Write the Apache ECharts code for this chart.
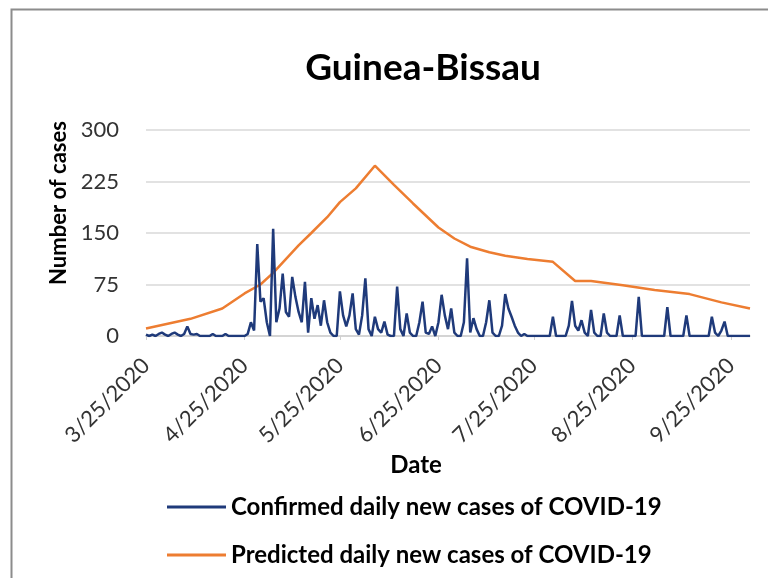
<!DOCTYPE html>
<html>
<head>
<meta charset="utf-8">
<script src="https://cdn.jsdelivr.net/npm/echarts@6/dist/echarts.min.js"></script>
<style>
html,body{margin:0;padding:0;background:#fff;}
#c{width:768px;height:578px;}
</style>
</head>
<body>
<div id="c"></div>
<script>
// ---- Data ----
var startDate = [2020, 3, 25];   // 3/25/2020
var dayCount = 191;              // 3/25/2020 .. 10/1/2020
var yTicks = [0, 75, 150, 225, 300];

// Confirmed daily new cases (one value per day from 3/25/2020)
var confirmed = [
  2,0,2,0,3,5,2,0,3,5, 2,0,3,14,3,2,3,0,0,0,
  0,3,0,0,0,3,0,0,0,0, 0,0,3,20,8,134,50,55,20,0,
  156,20,40,91,35,28,86,57,35,20, 79,5,55,25,45,15,52,20,5,0,
  0,65,30,14,30,62,10,2,30,84, 10,0,28,10,5,21,2,0,0,72,
  10,0,33,5,0,0,20,50,5,3, 14,0,20,60,30,10,40,5,0,0,
  20,113,5,26,10,0,0,20,52,5, 0,0,15,61,40,28,15,5,0,3,
  0,0,0,0,0,0,0,0,28,0, 0,0,0,15,51,15,8,23,5,0,
  38,5,0,0,33,5,0,0,0,30, 0,0,0,0,0,57,0,0,0,0,
  0,0,0,0,42,0,0,0,0,0, 30,0,0,0,0,0,0,0,28,5,
  0,8,21,0,0,0,0,0,0,0, 0
];

// Predicted daily new cases (read at these dates)
var predDates = ['3/25/2020','4/8/2020','4/18/2020','4/25/2020','4/30/2020','5/4/2020','5/8/2020','5/12/2020',
  '5/16/2020','5/21/2020','5/25/2020','5/30/2020','6/5/2020','6/11/2020','6/17/2020','6/25/2020','6/30/2020',
  '7/5/2020','7/11/2020','7/16/2020','7/23/2020','7/31/2020','8/7/2020','8/12/2020','8/22/2020','9/1/2020',
  '9/12/2020','9/22/2020','10/1/2020'];
var predValues = [11,25,40,62,75,92,112,132,150,173,195,215,248,220,193,158,142,130,122,117,112,108,80,80,74,67,61,49,40];

var seriesNames = ['Confirmed daily new cases of COVID-19', 'Predicted daily new cases of COVID-19'];

// ---- Categories ----
var dates = [];
(function(){
  var d = new Date(startDate[0], startDate[1]-1, startDate[2]);
  for (var i = 0; i < dayCount; i++) {
    dates.push((d.getMonth()+1) + '/' + d.getDate() + '/' + d.getFullYear());
    d.setDate(d.getDate()+1);
  }
})();
function isMonthTick(i, v){ return String(v).split('/')[1] === '25'; }

var FONT = 'Lato';
var NAVY = '#1f3a7a', ORANGE = '#ed7d31';
var chart = echarts.init(document.getElementById('c'), null, {renderer:'canvas'});
chart.setOption({
  backgroundColor: '#fff',
  animation: false,
  title: {
    text: 'Guinea-Bissau', left: 418, top: 45, textAlign: 'center',
    textStyle: {fontFamily: FONT, fontWeight: 'bold', fontSize: 37, color: '#000'}
  },
  graphic: [{
    type: 'rect', left: 9, top: 7, silent: true,
    shape: {width: 820, height: 600},
    style: {fill: 'none', stroke: '#8c8c8c', lineWidth: 2}
  }],
  grid: {left: 146, right: 18, top: 130, bottom: 242, containLabel: false},
  legend: {
    orient: 'vertical', left: 162, top: 490, itemGap: 24,
    itemWidth: 59, itemHeight: 3,
    textStyle: {fontFamily: FONT, fontWeight: 'bold', fontSize: 24, color: '#000'},
    data: [{name: seriesNames[0], icon: 'rect'}, {name: seriesNames[1], icon: 'rect'}]
  },
  xAxis: {
    type: 'category', data: dates, boundaryGap: false,
    name: 'Date', nameLocation: 'middle', nameGap: 117,
    nameTextStyle: {fontFamily: FONT, fontWeight: 'bold', fontSize: 24, color: '#000', padding: [0, 64, 0, 0]},
    axisLine: {lineStyle: {color: '#d0d0d0', width: 1.5}},
    axisTick: {show: true, interval: isMonthTick, length: 4, lineStyle: {color: '#d0d0d0'}},
    axisLabel: {interval: isMonthTick, rotate: 45, fontFamily: FONT, fontSize: 22, color: '#333', margin: 26},
    splitLine: {show: false}
  },
  yAxis: {
    type: 'value', min: yTicks[0], max: yTicks[yTicks.length-1], interval: yTicks[1]-yTicks[0],
    name: 'Number of cases', nameLocation: 'middle', nameRotate: 90, nameGap: 74,
    nameTextStyle: {fontFamily: FONT, fontWeight: 'bold', fontSize: 22, color: '#000', padding: [0, 0, 0, 60]},
    axisLine: {show: false}, axisTick: {show: false},
    axisLabel: {fontFamily: FONT, fontSize: 22, color: '#333', margin: 27},
    splitLine: {lineStyle: {color: '#d9d9d9', width: 1.5}}
  },
  series: [
    {
      name: seriesNames[0], type: 'line', data: confirmed, showSymbol: false, symbol: 'none',
      lineStyle: {color: NAVY, width: 2.5}, itemStyle: {color: NAVY}, z: 3
    },
    {
      name: seriesNames[1], type: 'line', showSymbol: false, symbol: 'none',
      data: predDates.map(function(d, i){ return [d, predValues[i]]; }),
      lineStyle: {color: ORANGE, width: 2.5}, itemStyle: {color: ORANGE}, z: 2
    }
  ]
});
</script>
</body>
</html>
